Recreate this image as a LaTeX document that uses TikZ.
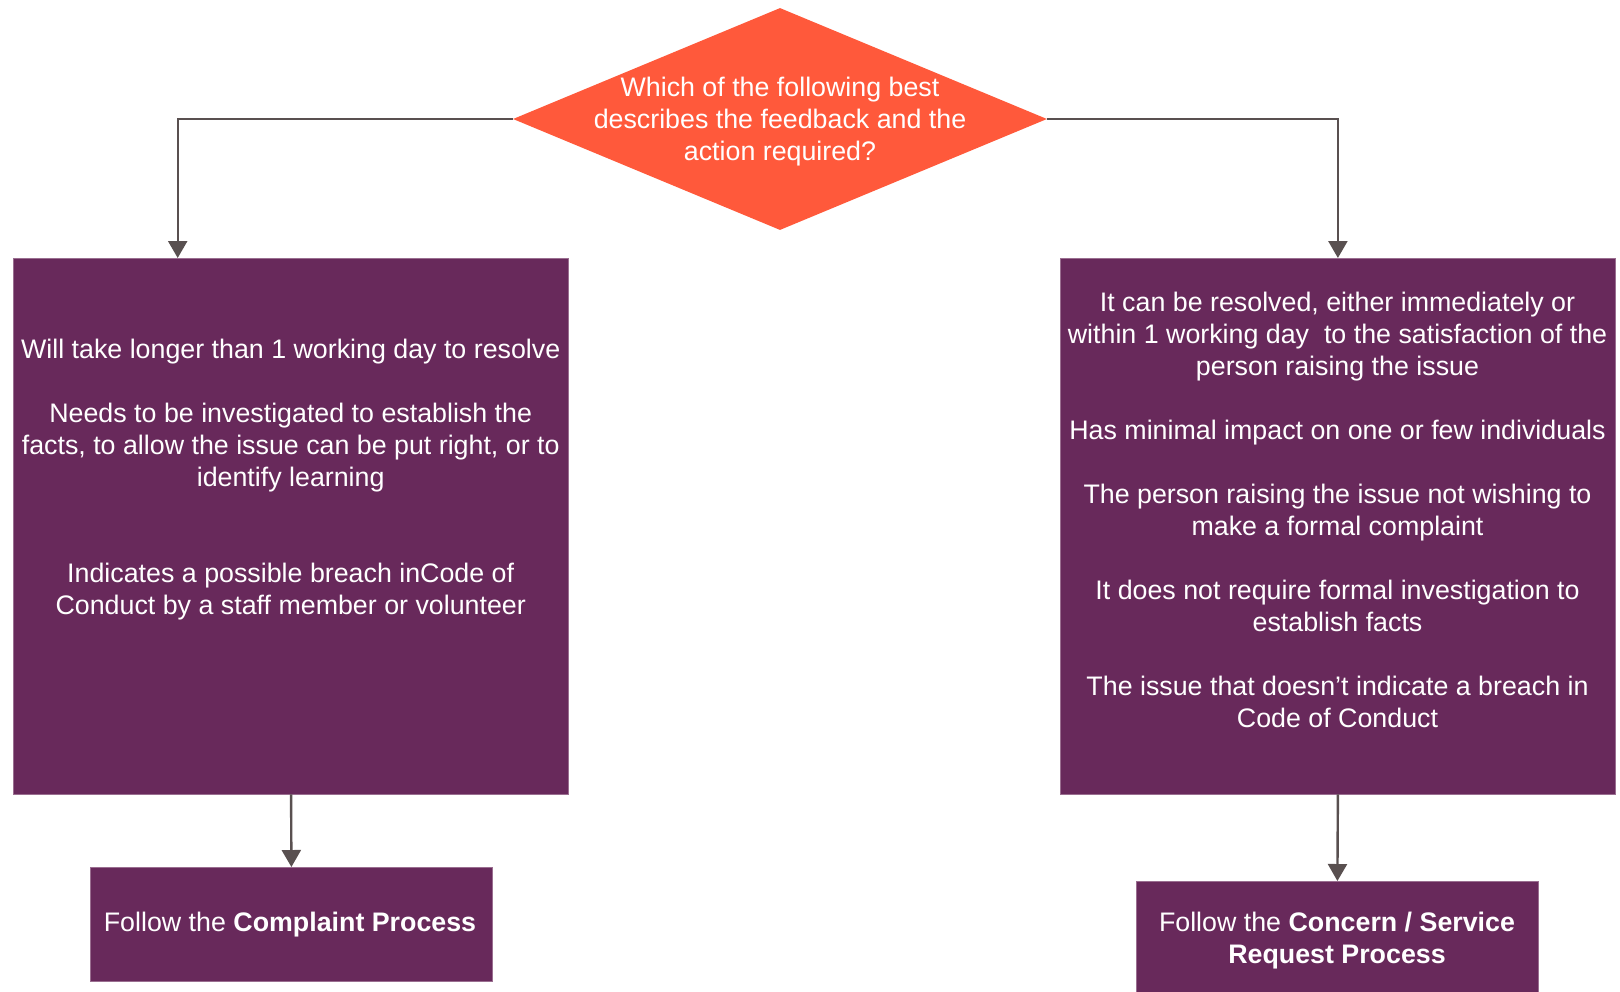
\documentclass[tikz,border=0pt]{standalone}
\usepackage{fontspec}
\setmainfont{Liberation Sans}
\usetikzlibrary{shapes.geometric,arrows.meta}
\definecolor{boxpurple}{HTML}{68295B}
\definecolor{boxedge}{HTML}{9A6E90}
\definecolor{diaorange}{HTML}{FF593B}
\definecolor{arrowgray}{HTML}{595050}
\begin{document}
\begin{tikzpicture}[x=1pt,y=-1pt,
  purplebox/.style={draw=boxedge, line width=0.8pt, fill=boxpurple, inner sep=0pt, anchor=north west},
  whitetext/.style={text=white, align=center, inner sep=0pt, font=\fontsize{26.8}{32}\selectfont},
  conn/.style={draw=arrowgray, line width=2.4pt, -{Triangle[width=19pt,length=17pt]}}
]
\useasboundingbox (0,0) rectangle (1620,991);
% decision diamond
\node[diamond, fill=diaorange, inner sep=0pt, minimum width=534pt, minimum height=222pt] (dia) at (780,119) {};
\node[whitetext] (diatext) at (780,122) {Which of the following best\\describes the feedback and the\\action required?};
% main boxes
\node[purplebox, minimum width=554.6pt, minimum height=535.5pt] (lbox) at (13.4,258) {};
\node[purplebox, minimum width=555pt, minimum height=535.5pt] (rbox) at (1060,258) {};
\node[whitetext] (ltext) at (290.7,480) {Will take longer than 1 working day to resolve\\[32pt]
Needs to be investigated to establish the\\facts, to allow the issue can be put right, or to\\identify learning\\[64pt]
Indicates a possible breach inCode of\\Conduct by a staff member or volunteer};
\node[whitetext] (rtext) at (1337.5,510) {It can be resolved, either immediately or\\within 1 working day~ to the satisfaction of the\\person raising the issue\\[32pt]
Has minimal impact on one or few individuals\\[32pt]
The person raising the issue not wishing to\\make a formal complaint\\[32pt]
It does not require formal investigation to\\establish facts\\[32pt]
The issue that doesn’t indicate a breach in\\Code of Conduct};
% result boxes
\node[purplebox, minimum width=402pt, minimum height=113.5pt] (lres) at (90,867) {};
\node[whitetext] (lrestext) at (290,925) {Follow the \textbf{Complaint Process}};
\node[purplebox, minimum width=402pt, minimum height=115pt] (rres) at (1136,881) {};
\node[whitetext] (rrestext) at (1337,940.5) {Follow the \textbf{Concern / Service}\\\textbf{Request Process}};
% connectors
\draw[conn] (dia.west) -| ([xshift=164.3pt]lbox.north west);
\draw[conn] (dia.east) -| (rbox.north);
\draw[conn] (lbox.south) -- (lres.north);
\draw[conn] (rbox.south) -- (rres.north);
\end{tikzpicture}
\end{document}
